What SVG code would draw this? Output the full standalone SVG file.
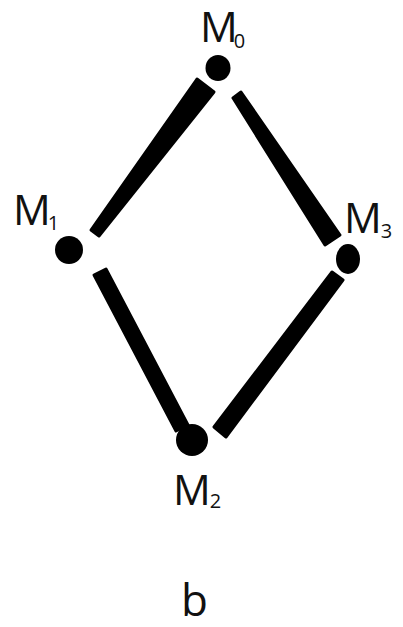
<svg xmlns="http://www.w3.org/2000/svg" width="403" height="627" viewBox="0 0 403 627">
<style>
.edge{fill:#000;stroke:#000;stroke-width:3;stroke-linejoin:round}
.dot{fill:#000}
.lbl{font-family:"Open Sans","Noto Sans",sans-serif;font-size:42px;fill:#111}
.sub{font-size:20px}
</style>
<rect width="403" height="627" fill="#fff"/>
<g id="connectors">
<path class="edge" d="M214,92 L197,79 L91,230 L99,236 Z"/>
<path class="edge" d="M241,92 L233,98 L325,245 L340,235 Z"/>
<path class="edge" d="M106,269 L94,275 L176,431 L188,425 Z"/>
<path class="edge" d="M343,280 L332,272 L214,427 L226,437 Z"/>
</g>
<g id="M0">
<ellipse class="dot" cx="218" cy="68" rx="12.5" ry="13"/>
<text class="lbl" x="200" y="42">M<tspan class="sub" dx="-4" dy="6">0</tspan></text>
</g>
<g id="M1">
<ellipse class="dot" cx="69" cy="250" rx="14" ry="14"/>
<text class="lbl" x="13" y="225">M<tspan class="sub" dx="-3" dy="5">1</tspan></text>
</g>
<g id="M3">
<ellipse class="dot" cx="348" cy="259" rx="12" ry="15"/>
<text class="lbl" x="344" y="233">M<tspan class="sub" dx="-1" dy="5">3</tspan></text>
</g>
<g id="M2">
<ellipse class="dot" cx="192" cy="440" rx="16" ry="16"/>
<text class="lbl" x="173" y="505">M<tspan class="sub" dx="-1" dy="3">2</tspan></text>
</g>
<text id="caption" class="lbl" x="181" y="616" style="font-size:44px">b</text>
</svg>
